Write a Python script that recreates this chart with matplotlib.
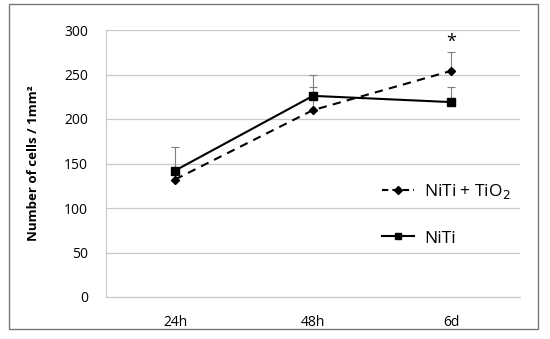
import matplotlib.pyplot as plt
import numpy as np
from matplotlib.patches import Rectangle
from matplotlib.lines import Line2D

plt.rcParams['font.family'] = ['Open Sans', 'DejaVu Sans']

categories = ["24h", "48h", "6d"]
niti_tio2 = [132, 210, 254]
niti_tio2_err = [0, 26, 21]
niti = [142, 226, 219]
niti_err = [26, 24, 17]
star_value = 287

x = np.arange(len(categories))

fig = plt.figure(figsize=(5.5, 3.39), dpi=100)
ax = fig.add_axes([106/550, 42/339, 414/550, 267/339])

# outer frame
fig.patches.append(Rectangle((9/550, 10/339), 529/550, 325/339, transform=fig.transFigure,
                             fill=False, edgecolor="#777777", linewidth=1.0))

grey = "#7f7f7f"
ax.errorbar(x, niti_tio2, yerr=[np.zeros(3), niti_tio2_err], fmt="none", ecolor=grey,
            elinewidth=0.8, capsize=3, capthick=0.8, zorder=2)
ax.errorbar(x, niti, yerr=[np.zeros(3), niti_err], fmt="none", ecolor=grey,
            elinewidth=0.8, capsize=3, capthick=0.8, zorder=2)

ax.plot(x, niti_tio2, color="black", linestyle=(0, (4, 3)), linewidth=1.5,
        marker="D", markersize=4, zorder=3)
ax.plot(x, niti, color="black", linestyle="-", linewidth=1.5,
        marker="s", markersize=6, zorder=3)

ax.text(x[2], star_value, "*", ha="center", va="center", fontsize=13)

ax.set_xlim(-0.5, 2.5)
ax.set_ylim(0, 300)
ax.set_yticks(np.arange(0, 301, 50))
ax.set_xticks(x)
ax.set_xticklabels(categories)
ax.grid(axis="y", color="#c8c8c8", linewidth=0.9)
ax.set_axisbelow(True)
for s in ["top", "right"]:
    ax.spines[s].set_visible(False)
ax.spines["left"].set_color("#c8c8c8")
ax.spines["bottom"].set_color("#c8c8c8")
ax.tick_params(axis="y", length=0, pad=13, labelsize=10)
ax.tick_params(axis="x", length=0, pad=13, labelsize=10)
ax.set_ylabel("Number of cells / 1mm²", fontsize=9.5, fontweight="bold", labelpad=17)

handles = [
    Line2D([], [], color="black", linestyle=(0, (3, 2)), linewidth=1.5, marker="D", markersize=4),
    Line2D([], [], color="black", linestyle="-", linewidth=1.5, marker="s", markersize=5),
]
ax.legend(handles, ["NiTi + TiO$_2$", "NiTi"], loc="center left", bbox_to_anchor=(0.63, 0.31),
          frameon=False, fontsize=12.5, handlelength=1.8, labelspacing=1.7, handletextpad=0.6)

fig.savefig("out.png", dpi=100)
